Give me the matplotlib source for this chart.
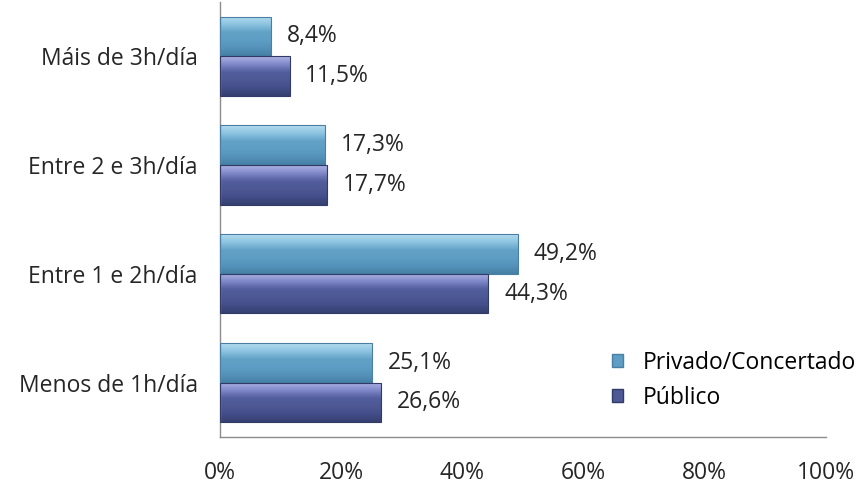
import matplotlib
matplotlib.use("Agg")
import matplotlib.pyplot as plt
import numpy as np
from matplotlib.colors import LinearSegmentedColormap
from matplotlib.patches import Patch

plt.rcParams['font.family'] = ['Open Sans', 'DejaVu Sans']

# datos (de abaixo a arriba)
categories = ["Menos de 1h/día", "Entre 1 e 2h/día", "Entre 2 e 3h/día", "Máis de 3h/día"]
privado = [25.1, 49.2, 17.3, 8.4]
publico = [26.6, 44.3, 17.7, 11.5]
series_names = ["Privado/Concertado", "Público"]
xticks = [0, 20, 40, 60, 80, 100]

FS = 16.5
TXT = "#262626"

cmap_priv = LinearSegmentedColormap.from_list(
    "priv", ["#457fa5", "#5592b9", "#5e9ec4", "#62a2c7", "#8cc3e0", "#b4dcf0"])
cmap_pub = LinearSegmentedColormap.from_list(
    "pub", ["#353f70", "#434e8a", "#4d5894", "#525e9e", "#7f88c8", "#aeb4e6"])

fig = plt.figure(figsize=(8.64, 4.92), dpi=100)
ax = fig.add_axes([0.2546, 0.112, 0.7014, 0.884])

y = np.arange(len(categories))
h = 0.365

bars_priv = ax.barh(y + h / 2, privado, height=h, color="#5e9ec4",
                    edgecolor="#4a7fa3", linewidth=0.8, label=series_names[0])
bars_pub = ax.barh(y - h / 2, publico, height=h, color="#4d5894",
                   edgecolor="#323b66", linewidth=0.8, label=series_names[1])

# degradado vertical dentro de cada barra
grad = np.linspace(0, 1, 64).reshape(-1, 1)
for bars, cmap in [(bars_priv, cmap_priv), (bars_pub, cmap_pub)]:
    for b in bars:
        x0, y0 = b.get_x(), b.get_y()
        w, hh = b.get_width(), b.get_height()
        im = ax.imshow(grad, cmap=cmap, aspect="auto", origin="lower",
                       extent=(x0, x0 + w, y0, y0 + hh), zorder=2)
        im.set_clip_path(b)
        b.set_zorder(3)
        b.set_facecolor("none")

for bars, vals in [(bars_priv, privado), (bars_pub, publico)]:
    for b, v in zip(bars, vals):
        ax.text(v + 2.6, b.get_y() + b.get_height() / 2,
                f"{v:.1f}%".replace(".", ","), va="center", ha="left",
                fontsize=FS, color=TXT)

ax.set_xlim(0, 100)
ax.set_ylim(-0.5, len(categories) - 0.5)
ax.set_xticks(xticks)
ax.set_xticklabels([f"{t}%" for t in xticks], fontsize=FS, color=TXT)
ax.set_yticks(y)
ax.set_yticklabels(categories, fontsize=FS, color=TXT)
ax.tick_params(axis="x", length=0, pad=17)
ax.tick_params(axis="y", length=0, pad=16)

for s in ["top", "right"]:
    ax.spines[s].set_visible(False)
for s in ["left", "bottom"]:
    ax.spines[s].set_color("#8c8c8c")
    ax.spines[s].set_linewidth(1.0)

handles = [Patch(facecolor="#5e9ec4", edgecolor="#4a7fa3"),
           Patch(facecolor="#4d5894", edgecolor="#323b66")]
ax.legend(handles, series_names, loc="center left", bbox_to_anchor=(0.647, 0.13),
          frameon=False, fontsize=FS, handlelength=0.48, handleheight=0.5,
          handletextpad=0.85, labelspacing=0.48, borderpad=0, borderaxespad=0)

fig.savefig("out.png", dpi=100)
